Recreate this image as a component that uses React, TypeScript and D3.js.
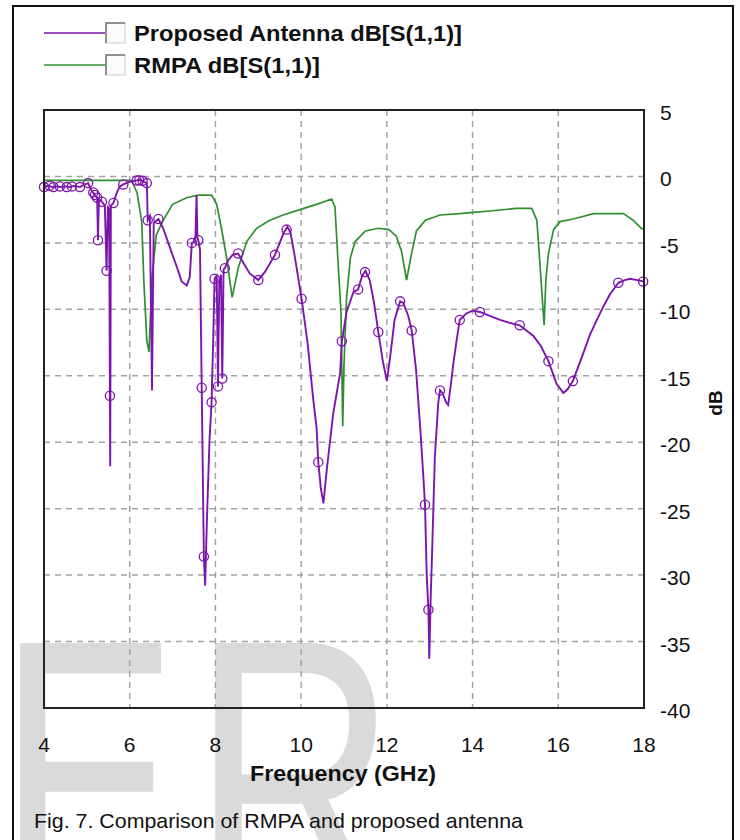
import React from "react";
import * as d3 from "d3";

// Proposed antenna return loss, dB[S(1,1)] vs frequency (GHz)
const proposedFreq = [
  4.0, 4.1, 4.2, 4.3, 4.4, 4.5, 4.6, 4.7, 4.84, 4.95, 5.03, 5.1, 5.19, 5.24, 5.26, 5.28,
  5.35, 5.42, 5.46, 5.49, 5.52, 5.545, 5.56, 5.62, 5.7, 5.77, 5.85, 6.0, 6.16, 6.25, 6.33,
  6.4, 6.42, 6.47, 6.52, 6.56, 6.67, 6.78, 6.9, 7.02, 7.1, 7.21, 7.33, 7.4, 7.45, 7.53,
  7.56, 7.58, 7.6, 7.64, 7.68, 7.73, 7.76, 7.8, 7.86, 7.91, 7.95, 7.98, 8.03, 8.06, 8.09,
  8.13, 8.16, 8.19, 8.22, 8.3, 8.4, 8.53, 8.65, 8.8, 9.0, 9.15, 9.3, 9.39, 9.5, 9.6, 9.68,
  9.75, 9.85, 10.01, 10.15, 10.28, 10.36, 10.4, 10.46, 10.52, 10.6, 10.75, 10.91, 10.95,
  11.06, 11.22, 11.33, 11.42, 11.5, 11.6, 11.7, 11.8, 11.9, 12.0, 12.08, 12.18, 12.31,
  12.38, 12.5, 12.58, 12.68, 12.78, 12.85, 12.89, 12.93, 12.97, 12.99, 13.02, 13.05,
  13.12, 13.2, 13.24, 13.3, 13.38, 13.43, 13.5, 13.55, 13.62, 13.7, 13.86, 14.0, 14.17,
  14.4, 14.64, 14.85, 15.1, 15.42, 15.6, 15.77, 15.96, 16.12, 16.22, 16.34, 16.55, 16.74,
  16.9, 17.05, 17.2, 17.4, 17.55, 17.67, 17.85, 17.98,
];
const proposedDb = [
  -0.8, -0.7, -0.8, -0.75, -0.8, -0.75, -0.8, -0.7, -0.8, -0.6, -0.5, -1.0, -1.4, -1.6, -4.8, -1.7,
  -1.9, -2.2, -7.1, -2.3, -2.4, -21.8, -2.2, -2.0, -1.2, -0.75, -0.6, -0.4, -0.3, -0.25, -0.4,
  -0.5, -3.3, -3.0, -16.1, -3.5, -3.2, -3.9, -5.0, -6.1, -6.8, -7.9, -8.2, -7.6, -5.0, -4.9,
  -1.4, -4.6, -4.8, -5.5, -15.9, -28.6, -30.8, -26.0, -20.0, -17.0, -12.0, -7.7, -7.5, -15.8, -8.0,
  -7.4, -15.2, -7.0, -6.9, -6.3, -5.9, -5.8, -6.5, -7.3, -7.8, -7.2, -6.4, -5.9, -5.0, -4.2, -3.8,
  -4.2, -6.0, -9.2, -12.5, -16.7, -18.9, -21.5, -23.5, -24.6, -22.0, -17.8, -14.8, -12.4,
  -10.2, -8.7, -8.5, -7.5, -7.1, -7.8, -9.5, -11.7, -13.8, -15.4, -13.5, -10.8, -9.4,
  -9.5, -10.5, -11.6, -14.5, -19.0, -22.5, -24.7, -30.0, -32.6, -36.3, -32.0, -28.9,
  -21.1, -17.0, -16.1, -16.3, -17.0, -17.2, -15.5, -14.1, -12.5, -10.8, -10.3, -10.1, -10.2,
  -10.5, -10.8, -11.0, -11.2, -12.0, -12.8, -13.9, -15.6, -16.3, -16.0, -15.4, -13.6, -11.9,
  -10.8, -9.8, -8.9, -8.0, -7.8, -7.7, -7.8, -7.9,
];

// Sample markers on the proposed antenna trace
const markerFreq = [
  4.0, 4.13, 4.22, 4.37, 4.53, 4.65, 4.84, 5.03, 5.15, 5.19, 5.24, 5.35, 5.26, 5.46, 5.538,
  5.62, 5.85, 6.16, 6.22, 6.3, 6.4, 6.42, 6.67, 7.45, 7.6, 7.68, 7.73, 7.91, 7.98, 8.06,
  8.16, 8.22, 8.53, 9.0, 9.39, 9.66, 10.01, 10.4, 10.95, 11.33, 11.49, 11.8, 12.31, 12.58,
  12.89, 12.97, 13.24, 13.7, 14.17, 15.1, 15.77, 16.34, 17.4, 17.98,
];
const markerDb = [
  -0.8, -0.7, -0.8, -0.75, -0.8, -0.75, -0.8, -0.5, -1.2, -1.4, -1.6, -1.9, -4.8, -7.1, -16.5,
  -2.0, -0.6, -0.3, -0.28, -0.33, -0.5, -3.3, -3.2, -5.0, -4.8, -15.9, -28.6, -17.0, -7.7, -15.8,
  -15.2, -6.9, -5.8, -7.8, -5.9, -4.0, -9.2, -21.5, -12.4, -8.5, -7.2, -11.7, -9.4, -11.6,
  -24.7, -32.6, -16.1, -10.8, -10.2, -11.2, -13.9, -15.4, -8.0, -7.9,
];

// Conventional RMPA return loss, dB[S(1,1)]
const rmpaFreq = [
  4.0, 5.0, 6.0, 6.05, 6.17, 6.28, 6.33, 6.4, 6.45, 6.52, 6.62, 6.78, 7.0, 7.33, 7.6, 7.91,
  8.03, 8.14, 8.26, 8.39, 8.53, 8.73, 8.96, 9.27, 9.58, 9.97, 10.36, 10.71, 10.79, 10.86,
  10.93, 10.97, 11.0, 11.06, 11.15, 11.26, 11.5, 11.8, 12.05, 12.22, 12.34, 12.46, 12.57,
  12.69, 12.9, 13.24, 13.7, 14.02, 14.41, 15.03, 15.38, 15.5, 15.57, 15.64, 15.67, 15.71,
  15.77, 15.89, 16.04, 16.35, 16.82, 17.52, 17.75, 17.97,
];
const rmpaDb = [
  -0.3, -0.3, -0.3, -0.35, -1.2, -3.4, -7.9, -12.4, -13.2, -7.6, -4.4, -3.3, -2.1, -1.6, -1.4, -1.4,
  -2.1, -3.9, -6.1, -9.1, -6.9, -4.9, -3.9, -3.3, -2.9, -2.5, -2.1, -1.7, -2.3, -6.4,
  -10.2, -18.8, -14.2, -9.1, -6.1, -4.9, -4.1, -3.9, -4.0, -4.5, -5.6, -7.8, -5.9,
  -4.1, -3.3, -2.9, -2.8, -2.7, -2.6, -2.4, -2.4, -3.3, -6.5, -9.8, -11.2, -7.8,
  -5.8, -4.0, -3.4, -3.2, -2.8, -2.8, -3.3, -4.0,
];

const xTicks = [4, 6, 8, 10, 12, 14, 16, 18];
const yTicks = [5, 0, -5, -10, -15, -20, -25, -30, -35, -40];

const legendLabels = ["Proposed Antenna dB[S(1,1)]", "RMPA dB[S(1,1)]"];
const legendWidths = [328, 186];

const PURPLE = "#7d14ad";
const GREEN = "#2f8f2f";
const FONT = "'Liberation Sans', Arial, sans-serif";

export default function App() {
  const W = 740;
  const H = 840;
  const plot = { left: 44, right: 644, top: 110, bottom: 708 };

  const x = d3.scaleLinear().domain([4, 18]).range([plot.left, plot.right]);
  const y = d3.scaleLinear().domain([5, -40]).range([plot.top, plot.bottom]);

  const line = d3
    .line<[number, number]>()
    .x((d) => x(d[0]))
    .y((d) => y(d[1]));

  const proposed = proposedFreq.map((f, i) => [f, proposedDb[i]] as [number, number]);
  const rmpa = rmpaFreq.map((f, i) => [f, rmpaDb[i]] as [number, number]);
  const markers = markerFreq.map((f, i) => [f, markerDb[i]] as [number, number]);

  const gridX = xTicks.filter((t) => t > 4 && t < 18);
  const gridY = yTicks.filter((t) => t < 5 && t > -40);

  const legendColors = [PURPLE, GREEN];

  return (
    <svg
      width={W}
      height={H}
      viewBox={`0 0 ${W} ${H}`}
      style={{ position: "absolute", left: 0, top: 0, background: "#fff" }}
    >
      <rect x={0} y={0} width={W} height={H} fill="#fff" />

      {/* watermark letters */}
      <g fill="#dadada" fontFamily={FONT}>
        <text transform="translate(-2,918) scale(1,1.48)" fontSize={270}>
          E
        </text>
        <text transform="translate(192,918) scale(1.05,1.48)" fontSize={270}>
          R
        </text>
      </g>

      {/* outer frame */}
      <rect x={13} y={6} width={720} height={860} fill="none" stroke="#111" strokeWidth={2} />

      {/* grid */}
      <g stroke="#a3a3a3" strokeWidth={1.5} strokeDasharray="6,5">
        {gridX.map((t) => (
          <line key={`gx${t}`} x1={x(t)} x2={x(t)} y1={plot.top} y2={plot.bottom} />
        ))}
        {gridY.map((t) => (
          <line key={`gy${t}`} x1={plot.left} x2={plot.right} y1={y(t)} y2={y(t)} />
        ))}
      </g>

      {/* series */}
      <path d={line(rmpa) ?? ""} fill="none" stroke={GREEN} strokeWidth={1.7} />
      <path d={line(proposed) ?? ""} fill="none" stroke={PURPLE} strokeWidth={1.9} />
      <g fill="none" stroke={PURPLE} strokeWidth={1.3}>
        {markers.map((m, i) => (
          <circle key={i} cx={x(m[0])} cy={y(m[1])} r={4.6} />
        ))}
      </g>

      {/* plot border */}
      <rect
        x={plot.left}
        y={plot.top}
        width={plot.right - plot.left}
        height={plot.bottom - plot.top}
        fill="none"
        stroke="#222"
        strokeWidth={2}
      />

      {/* y axis labels on the right */}
      <g fontFamily={FONT} fontSize={21} fill="#111">
        {yTicks.map((t) => (
          <text key={`yl${t}`} x={660} y={y(t) + 10} textAnchor="start">
            {t}
          </text>
        ))}
      </g>
      <text
        transform="translate(722,403) rotate(-90)"
        textAnchor="middle"
        fontFamily={FONT}
        fontWeight="bold"
        fontSize={19}
        fill="#111"
      >
        dB
      </text>

      {/* x axis labels */}
      <g fontFamily={FONT} fontSize={21} fill="#111">
        {xTicks.map((t) => (
          <text key={`xl${t}`} x={x(t)} y={752} textAnchor="middle">
            {t}
          </text>
        ))}
      </g>
      <text
        x={250}
        y={781}
        textLength={186}
        lengthAdjust="spacingAndGlyphs"
        fontFamily={FONT}
        fontWeight="bold"
        fontSize={22}
        fill="#111"
      >
        Frequency (GHz)
      </text>

      {/* legend */}
      {legendLabels.map((label, i) => {
        const cy = 33 + i * 32;
        return (
          <g key={label}>
            <line x1={44} x2={105} y1={cy} y2={cy} stroke={legendColors[i]} strokeWidth={1.6} />
            <rect x={106} y={cy - 10} width={19} height={20} fill="#fbfbfb" stroke="#c8c8c8" />
            <path
              d={`M${106},${cy + 10} V${cy - 10} H${125}`}
              fill="none"
              stroke="#777"
              strokeWidth={1.5}
            />
            <text
              x={134}
              y={cy + 8}
              textLength={legendWidths[i]}
              lengthAdjust="spacingAndGlyphs"
              fontFamily={FONT}
              fontWeight="bold"
              fontSize={22}
              fill="#111"
            >
              {label}
            </text>
          </g>
        );
      })}

      {/* caption */}
      <text
        x={34}
        y={828}
        textLength={489}
        lengthAdjust="spacingAndGlyphs"
        fontFamily={FONT}
        fontSize={21}
        fill="#111"
      >
        Fig. 7. Comparison of RMPA and proposed antenna
      </text>
    </svg>
  );
}
